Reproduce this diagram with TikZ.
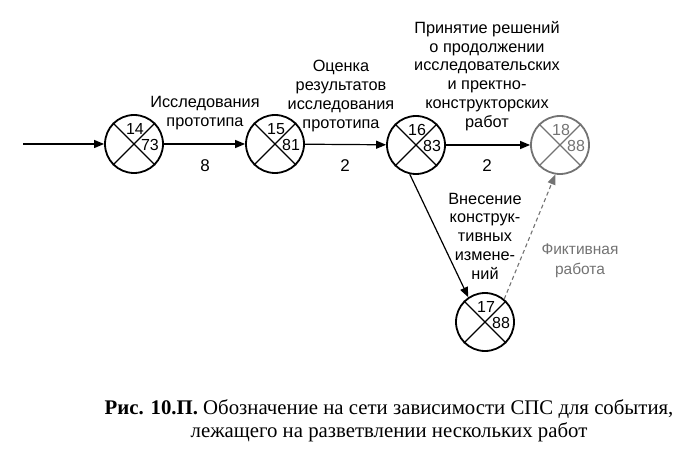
\documentclass[tikz,border=0pt]{standalone}
\usepackage{fontspec}
\setmainfont{Liberation Serif}
\newfontfamily\arialf{Liberation Sans}
\usetikzlibrary{arrows.meta}
\definecolor{fakegray}{gray}{0.45}
\tikzset{
  ev/.style={circle, draw, line width=1.8pt, minimum size=58pt, inner sep=0pt},
  evnum/.style={font=\arialf\fontsize{16}{16}\selectfont, inner sep=0pt},
  lbl/.style={font=\arialf\fontsize{16.3}{18.8}\selectfont, align=center, inner sep=0pt},
  dur/.style={font=\arialf\fontsize{17}{17}\selectfont, inner sep=0pt},
  arr/.style={line width=1.2pt, -{Triangle[length=10pt,width=8pt]}},
  captext/.style={font=\fontsize{20.8}{23.5}\selectfont, align=center, inner sep=0pt}
}
\newcommand{\evdraw}[6]{%
  \node[ev, draw=#6] (#1) at (#2,#3) {};
  \draw[#6, line width=1.1pt] (#1.45) -- (#1.225) (#1.135) -- (#1.315);
  \node[evnum, text=#6] (#1t) at (#2+1,#3-15) {#4};
  \node[evnum, text=#6] (#1r) at (#2+16,#3+1) {#5};
}
\begin{document}
\begin{tikzpicture}[x=1pt,y=-1pt]
\useasboundingbox (0,0) rectangle (683,449);
\evdraw{n14}{134}{144}{14}{73}{black}
\evdraw{n15}{275}{144}{15}{81}{black}
\evdraw{n16}{416}{145}{16}{83}{black}
\evdraw{n18}{560}{145}{18}{88}{fakegray}
\evdraw{n17}{485}{322}{17}{88}{black}
\coordinate (in) at (23,144);
\draw[arr] (in) -- (n14);
\draw[arr] (n14) -- (n15);
\draw[arr] (n15) -- (n16);
\draw[arr] (n16) -- (n18);
\draw[arr] (n16.258) -- (n17.124);
\draw[line width=1.1pt, fakegray, dashed, dash pattern=on 4pt off 3pt, -{Triangle[length=10pt,width=8pt]}] (n17.50) -- (n18.261);
\node[lbl] (l1) at (205,113) {Исследования\\прототипа};
\node[dur] (d1) at (205,166) {8};
\node[lbl] (l2) at (341,96) {Оценка\\результатов\\исследования\\прототипа};
\node[dur] (d2) at (345,166) {2};
\node[lbl] (l3) at (487,76) {Принятие решений\\о продолжении\\исследовательских\\и пректно-\\конструкторских\\работ};
\node[dur] (d3) at (487,166) {2};
\node[lbl] (l4) at (485,236) {Внесение\\конструк-\\тивных\\измене-\\ний};
\node[lbl, text=fakegray, font=\arialf\fontsize{15.5}{20}\selectfont] (l5) at (580,261) {Фиктивная\\работа};
\node[captext] (caption) at (389,421) {\textbf{Рис. 10.П.} Обозначение на сети зависимости СПС для события,\\лежащего на разветвлении нескольких работ};
\end{tikzpicture}
\end{document}
